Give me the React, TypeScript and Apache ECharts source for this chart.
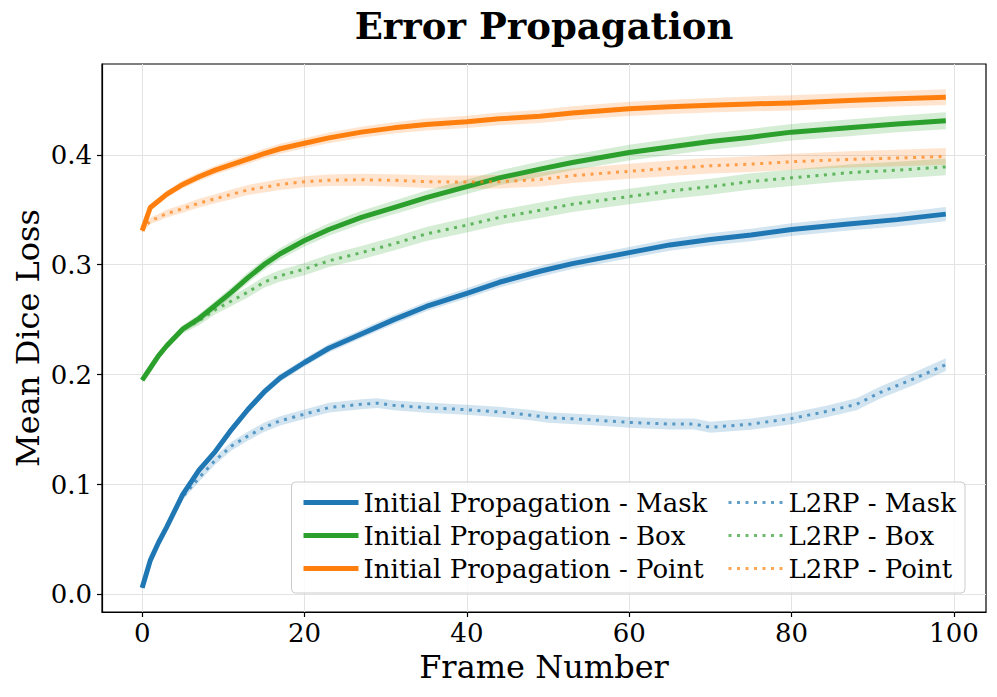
import React, { useEffect, useRef } from "react";
import * as echarts from "echarts";

// ---------- data ----------
const frames = [0, 1, 2, 3, 5, 7, 9, 11, 13, 15, 17, 20, 23, 27, 31, 35, 40, 44, 49, 53, 60, 65, 70, 75, 80, 87, 93, 99];

const ipMask = [0.006, 0.031, 0.047, 0.061, 0.091, 0.113, 0.130, 0.150, 0.168, 0.184, 0.197, 0.211, 0.224, 0.237, 0.250, 0.262, 0.274, 0.284, 0.294, 0.301, 0.311, 0.318, 0.323, 0.327, 0.332, 0.337, 0.341, 0.346];
const ipMaskStd = [0.001, 0.0015, 0.002, 0.002, 0.0025, 0.003, 0.003, 0.0032, 0.0034, 0.0035, 0.0036, 0.0037, 0.0038, 0.004, 0.0042, 0.0043, 0.0045, 0.0047, 0.0049, 0.005, 0.0052, 0.0054, 0.0055, 0.0057, 0.0058, 0.006, 0.0062, 0.0064];

const ipBox = [0.195, 0.206, 0.217, 0.226, 0.2415, 0.251, 0.263, 0.275, 0.288, 0.300, 0.310, 0.322, 0.332, 0.343, 0.352, 0.361, 0.371, 0.379, 0.387, 0.393, 0.402, 0.407, 0.412, 0.416, 0.4206, 0.4245, 0.428, 0.431];
const ipBoxStd = [0.002, 0.0025, 0.003, 0.003, 0.0035, 0.004, 0.0042, 0.0045, 0.0048, 0.005, 0.0052, 0.0055, 0.0057, 0.006, 0.0062, 0.0064, 0.0066, 0.0068, 0.007, 0.007, 0.0072, 0.0073, 0.0074, 0.0075, 0.0075, 0.0076, 0.0076, 0.0077];

const ipPoint = [0.331, 0.352, 0.358, 0.364, 0.373, 0.380, 0.386, 0.391, 0.396, 0.401, 0.4055, 0.4105, 0.4154, 0.4206, 0.4245, 0.4276, 0.430, 0.4327, 0.435, 0.438, 0.4418, 0.4436, 0.445, 0.4463, 0.4472, 0.4493, 0.451, 0.4524];
const ipPointStd = [0.002, 0.003, 0.003, 0.0032, 0.0035, 0.0038, 0.004, 0.0042, 0.0043, 0.0044, 0.0045, 0.0046, 0.0048, 0.005, 0.0052, 0.0054, 0.0056, 0.0058, 0.006, 0.0062, 0.0064, 0.0065, 0.0066, 0.0068, 0.0069, 0.007, 0.0071, 0.0072];

const l2rpMaskFrames = [0, 1, 2, 3, 5, 7, 9, 11, 13, 15, 17, 20, 23, 27, 29, 31, 35, 40, 44, 48, 50, 55, 60, 65, 68, 70, 75, 80, 84, 88, 91, 95, 99];
const l2rpMask = [0.006, 0.031, 0.047, 0.061, 0.089, 0.106, 0.122, 0.135, 0.144, 0.152, 0.158, 0.164, 0.170, 0.173, 0.174, 0.172, 0.170, 0.168, 0.166, 0.163, 0.161, 0.159, 0.1565, 0.155, 0.155, 0.152, 0.155, 0.160, 0.166, 0.173, 0.184, 0.196, 0.209];
const l2rpMaskStd = [0.001, 0.0015, 0.002, 0.002, 0.003, 0.0035, 0.0038, 0.004, 0.0041, 0.0042, 0.0042, 0.0043, 0.0044, 0.0045, 0.0045, 0.0045, 0.0046, 0.0046, 0.0047, 0.0047, 0.0048, 0.0048, 0.0049, 0.005, 0.005, 0.005, 0.0051, 0.0052, 0.0053, 0.0054, 0.0055, 0.0056, 0.0058];

const l2rpBox = [0.195, 0.206, 0.217, 0.226, 0.241, 0.249, 0.259, 0.267, 0.275, 0.284, 0.290, 0.296, 0.3035, 0.311, 0.319, 0.328, 0.336, 0.343, 0.3495, 0.355, 0.362, 0.367, 0.371, 0.3757, 0.379, 0.3837, 0.386, 0.389];
const l2rpBoxStd = [0.002, 0.0025, 0.003, 0.003, 0.0035, 0.004, 0.0042, 0.0045, 0.0048, 0.005, 0.0052, 0.0055, 0.0057, 0.006, 0.0062, 0.0064, 0.0066, 0.0068, 0.007, 0.007, 0.0071, 0.0072, 0.0073, 0.0074, 0.0075, 0.0075, 0.0076, 0.0077];

const l2rpPoint = [0.331, 0.340, 0.343, 0.3465, 0.351, 0.356, 0.360, 0.364, 0.368, 0.3705, 0.373, 0.3755, 0.3768, 0.3773, 0.3768, 0.3755, 0.3752, 0.3755, 0.3775, 0.381, 0.385, 0.3877, 0.390, 0.3915, 0.3937, 0.3958, 0.397, 0.3985];
const l2rpPointStd = [0.002, 0.003, 0.0032, 0.0035, 0.0038, 0.004, 0.0042, 0.0044, 0.0046, 0.0048, 0.005, 0.005, 0.0052, 0.0054, 0.0056, 0.0058, 0.006, 0.0062, 0.0064, 0.0066, 0.0068, 0.007, 0.0071, 0.0072, 0.0073, 0.0074, 0.0075, 0.0076];

const xTicks = [0, 20, 40, 60, 80, 100];
const yTicks = [0, 0.1, 0.2, 0.3, 0.4];

const IP_NAMES = ["Initial Propagation - Mask", "Initial Propagation - Box", "Initial Propagation - Point"];
const L2_NAMES = ["L2RP - Mask", "L2RP - Box", "L2RP - Point"];

const BLUE = "#1f77b4";
const GREEN = "#2ca02c";
const ORANGE = "#ff7f0e";
const FONT = "DejaVu Serif";

function bandSeries(xs: number[], ys: number[], sd: number[], color: string) {
  return {
    type: "custom",
    silent: true,
    z: 1,
    data: [[xs[0], ys[0]]],
    renderItem: (params: any, api: any) => {
      const upper = xs.map((x, i) => api.coord([x, ys[i] + sd[i]]));
      const lower = xs.map((x, i) => api.coord([x, ys[i] - sd[i]])).reverse();
      return {
        type: "polygon",
        shape: { points: upper.concat(lower) },
        style: { fill: color, opacity: 0.2 },
      };
    },
  };
}

function mainLine(name: string, xs: number[], ys: number[], color: string, dotted: boolean) {
  return {
    type: "line",
    name,
    data: xs.map((x, i) => [x, ys[i]]),
    symbol: "none",
    color,
    z: dotted ? 3 : 2,
    lineStyle: dotted
      ? { color, width: 3, type: [3, 5.5], opacity: 0.7, cap: "butt" }
      : { color, width: 5, opacity: 1, cap: "butt", join: "round" },
  };
}

export default function App() {
  const ref = useRef<HTMLDivElement>(null);
  useEffect(() => {
    if (!ref.current) return;
    const chart = echarts.init(ref.current, null, { renderer: "svg" });
    const series: any[] = [
      bandSeries(frames, ipMask, ipMaskStd, BLUE),
      bandSeries(frames, ipBox, ipBoxStd, GREEN),
      bandSeries(frames, ipPoint, ipPointStd, ORANGE),
      bandSeries(l2rpMaskFrames, l2rpMask, l2rpMaskStd, BLUE),
      bandSeries(frames, l2rpBox, l2rpBoxStd, GREEN),
      bandSeries(frames, l2rpPoint, l2rpPointStd, ORANGE),
      mainLine(IP_NAMES[0], frames, ipMask, BLUE, false),
      mainLine(IP_NAMES[1], frames, ipBox, GREEN, false),
      mainLine(IP_NAMES[2], frames, ipPoint, ORANGE, false),
      mainLine(L2_NAMES[0], l2rpMaskFrames, l2rpMask, BLUE, true),
      mainLine(L2_NAMES[1], frames, l2rpBox, GREEN, true),
      mainLine(L2_NAMES[2], frames, l2rpPoint, ORANGE, true),
    ];
    const legendCommon = {
      orient: "vertical",
      top: 483,
      itemWidth: 55,
      itemHeight: 14,
      itemGap: 4,
      selectedMode: false,
      itemStyle: { opacity: 0 },
      textStyle: { fontFamily: FONT, fontSize: 26, color: "#000", lineHeight: 29 },
    };
    chart.setOption({
      animation: false,
      backgroundColor: "#fff",
      grid: {
        left: 102,
        top: 64,
        right: 11,
        bottom: 85,
        show: true,
        borderColor: "#000",
        borderWidth: 1.2,
        backgroundColor: "transparent",
      },
      xAxis: {
        type: "value",
        min: -4.95,
        max: 103.95,
        axisLine: { show: true, onZero: false, lineStyle: { color: "#000", width: 1.2 } },
        axisTick: { show: true, length: 5, lineStyle: { color: "#000", width: 1.2 }, customValues: xTicks },
        axisLabel: {
          customValues: xTicks,
          fontFamily: FONT,
          fontSize: 26,
          color: "#000",
          margin: 8,
        },
        splitLine: { show: true, lineStyle: { color: "#e3e3e3", width: 1 } },
      },
      yAxis: {
        type: "value",
        min: -0.016,
        max: 0.4826,
        axisLine: { show: true, onZero: false, lineStyle: { color: "#000", width: 1.2 } },
        axisTick: { show: true, length: 5, lineStyle: { color: "#000", width: 1.2 }, customValues: yTicks },
        axisLabel: {
          customValues: yTicks,
          fontFamily: FONT,
          fontSize: 26,
          color: "#000",
          margin: 10,
          formatter: (v: number) => v.toFixed(1),
        },
        splitLine: { show: true, lineStyle: { color: "#e3e3e3", width: 1 } },
      },
      legend: [
        {
          ...legendCommon,
          left: 296,
          data: IP_NAMES.map((n) => ({ name: n, lineStyle: { width: 5 } })),
        },
        {
          ...legendCommon,
          left: 722,
          data: L2_NAMES.map((n) => ({ name: n, lineStyle: { width: 3, type: [3, 5.5], opacity: 0.7 } })),
        },
      ],
      graphic: [
        {
          type: "rect",
          z: 3,
          shape: { x: 291.5, y: 482, width: 673.5, height: 111, r: 4 },
          style: { fill: "rgba(255,255,255,0.85)", stroke: "#cccccc", lineWidth: 1 },
        },
        {
          type: "text",
          x: 544,
          y: 26,
          style: {
            text: "Error Propagation",
            font: `bold 37px '${FONT}'`,
            fill: "#000",
            textAlign: "center",
            textVerticalAlign: "middle",
          },
        },
        {
          type: "text",
          x: 544,
          y: 667,
          style: {
            text: "Frame Number",
            font: `32px '${FONT}'`,
            fill: "#000",
            textAlign: "center",
            textVerticalAlign: "middle",
          },
        },
        {
          type: "text",
          x: 28,
          y: 338,
          rotation: Math.PI / 2,
          style: {
            text: "Mean Dice Loss",
            font: `32px '${FONT}'`,
            fill: "#000",
            textAlign: "center",
            textVerticalAlign: "middle",
          },
        },
      ],
      series,
    });
    return () => chart.dispose();
  }, []);
  return <div ref={ref} style={{ position: "absolute", left: 0, top: 0, width: 997, height: 697 }} />;
}
